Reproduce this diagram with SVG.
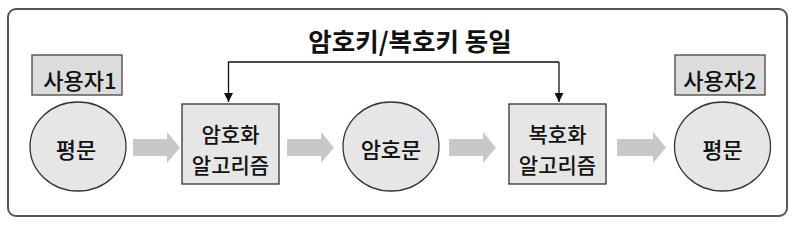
<svg xmlns="http://www.w3.org/2000/svg" width="796" height="226" viewBox="0 0 796 226">
<defs>
<style>
text{font-family:"Noto Sans CJK KR","Noto Sans",sans-serif;fill:#111;text-anchor:middle;dominant-baseline:central}
.box{fill:#e6e6e6;stroke:#333;stroke-width:1.3}
.lab{fill:#dcdcdc;stroke:#444;stroke-width:1.3}
.t{font-size:22px;font-weight:500}
.b{font-size:21px;font-weight:500}
.ga{fill:#c8c8c8}
.ln{fill:none;stroke:#111;stroke-width:1.3}
</style>
<marker id="ah" viewBox="0 0 10 10" refX="10" refY="5" markerWidth="9" markerHeight="9" markerUnits="userSpaceOnUse" orient="auto">
<path d="M0,0 L10,5 L0,10 Z" fill="#111"/>
</marker>
</defs>
<rect x="0" y="0" width="796" height="226" fill="#fff"/>
<rect id="frame" x="8" y="9" width="779" height="207" rx="8" fill="#fff" stroke="#555" stroke-width="2"/>
<text id="title" x="410" y="39" style="font-size:25.5px;font-weight:bold">암호키/복호키 동일</text>
<g id="user1"><rect class="lab" x="32" y="55" width="90" height="40"/><text class="t" x="80" y="79">사용자1</text></g>
<g id="user2"><rect class="lab" x="675" y="55" width="90" height="40"/><text class="t" x="720" y="79">사용자2</text></g>
<g id="plain1"><ellipse class="box" cx="78" cy="146.5" rx="48" ry="44.5"/><text class="t" x="76" y="148">평문</text></g>
<g id="enc"><rect class="box" x="182" y="104" width="97" height="80"/><text class="b" x="230.5" y="132.5">암호화</text><text class="b" x="230.5" y="163.5">알고리즘</text></g>
<g id="cipher"><ellipse class="box" cx="391" cy="146.5" rx="48" ry="44.5"/><text class="t" x="391" y="148">암호문</text></g>
<g id="dec"><rect class="box" x="509" y="104" width="97" height="80"/><text class="b" x="557.5" y="132.5">복호화</text><text class="b" x="557.5" y="163.5">알고리즘</text></g>
<g id="plain2"><ellipse class="box" cx="722.5" cy="146.5" rx="48" ry="44.5"/><text class="t" x="722.5" y="148">평문</text></g>
<g id="connectors">
<path class="ga" d="M133,139 H167 V132 L180,147.5 L167,163 V156 H133 Z"/>
<path class="ga" d="M287,139 H321 V132 L334,147.5 L321,163 V156 H287 Z"/>
<path class="ga" d="M449,139 H483 V132 L496,147.5 L483,163 V156 H449 Z"/>
<path class="ga" d="M617,139 H653 V132 L666,147.5 L653,163 V156 H617 Z"/>
<path class="ln" d="M559,62 H228.5 V102" marker-end="url(#ah)"/>
<path class="ln" d="M559,62 V102" marker-end="url(#ah)"/>
</g>
</svg>
